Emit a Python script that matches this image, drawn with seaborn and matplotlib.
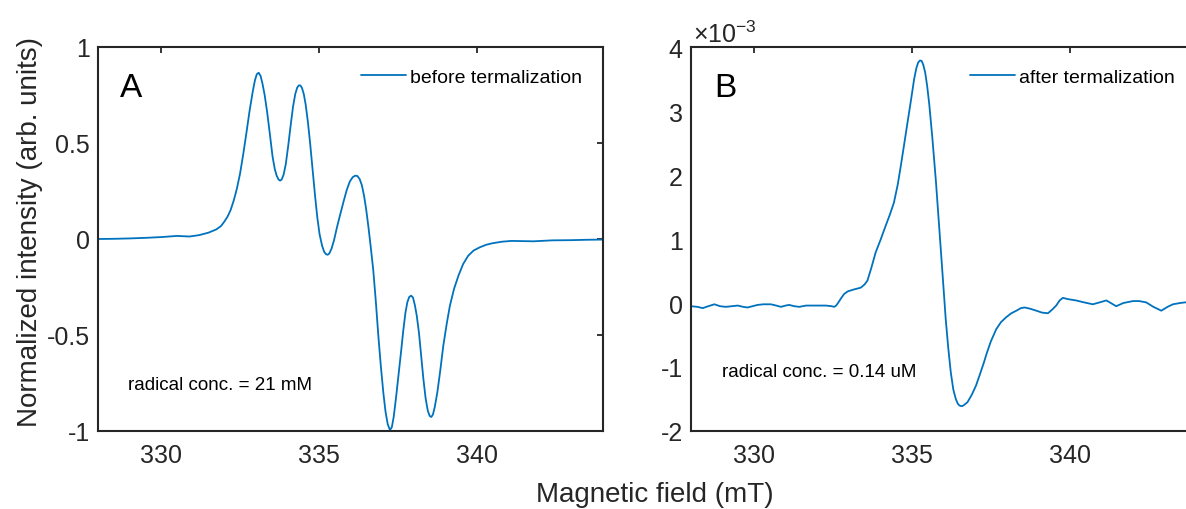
import numpy as np
import pandas as pd
import matplotlib
matplotlib.use('Agg')
import matplotlib.pyplot as plt
import seaborn as sns

# 1. Data
field_a = [328.0, 328.5, 329.0, 329.5, 330.0, 330.5, 330.9, 331.2, 331.5, 331.75,
           331.9, 332.0, 332.1, 332.2, 332.3, 332.4, 332.5, 332.6, 332.7, 332.8,
           332.9, 332.97, 333.03, 333.09, 333.15, 333.21, 333.28, 333.36, 333.45, 333.53,
           333.6, 333.66, 333.72, 333.77, 333.82, 333.88, 333.95, 334.03, 334.11, 334.18,
           334.25, 334.31, 334.36, 334.41, 334.46, 334.52, 334.58, 334.65, 334.72, 334.8,
           334.88, 334.95, 335.02, 335.1, 335.17, 335.23, 335.28, 335.33, 335.4, 335.48,
           335.57, 335.67, 335.78, 335.88, 335.98, 336.07, 336.15, 336.22, 336.29, 336.36,
           336.43, 336.5, 336.57, 336.64, 336.72, 336.8, 336.88, 336.96, 337.04, 337.11,
           337.18, 337.25, 337.31, 337.37, 337.44, 337.52, 337.6, 337.67, 337.74, 337.8,
           337.86, 337.92, 337.98, 338.04, 338.1, 338.17, 338.24, 338.31, 338.38, 338.45,
           338.51, 338.56, 338.61, 338.67, 338.75, 338.84, 338.94, 339.05, 339.15, 339.28,
           339.42, 339.57, 339.73, 339.9, 340.1, 340.3, 340.5, 340.8, 341.1, 341.8,
           342.4, 343.0, 343.5, 344.0]
signal_a = [0.000, 0.001, 0.003, 0.006, 0.010, 0.016, 0.013, 0.020, 0.033, 0.050,
            0.068, 0.090, 0.115, 0.150, 0.200, 0.262, 0.340, 0.440, 0.550, 0.665,
            0.765, 0.825, 0.858, 0.866, 0.850, 0.810, 0.750, 0.660, 0.540, 0.430,
            0.365, 0.330, 0.310, 0.304, 0.310, 0.335, 0.390, 0.490, 0.600, 0.690,
            0.755, 0.788, 0.800, 0.800, 0.788, 0.755, 0.700, 0.610, 0.500, 0.360,
            0.220, 0.110, 0.025, -0.035, -0.068, -0.080, -0.082, -0.075, -0.050, -0.005,
            0.060, 0.125, 0.195, 0.255, 0.300, 0.322, 0.330, 0.328, 0.312, 0.280,
            0.225, 0.150, 0.060, -0.040, -0.160, -0.320, -0.500, -0.660, -0.800, -0.900,
            -0.965, -0.995, -0.980, -0.925, -0.830, -0.710, -0.590, -0.480, -0.385, -0.330,
            -0.302, -0.295, -0.305, -0.345, -0.400, -0.490, -0.610, -0.730, -0.830, -0.895,
            -0.922, -0.927, -0.915, -0.875, -0.800, -0.690, -0.556, -0.440, -0.347, -0.260,
            -0.191, -0.130, -0.087, -0.060, -0.043, -0.030, -0.022, -0.014, -0.010, -0.012,
            -0.007, -0.006, -0.004, -0.003]

field_b = [328.0, 328.2, 328.37, 328.55, 328.74, 328.92, 329.1, 329.3, 329.48, 329.65,
           329.79, 329.95, 330.11, 330.3, 330.53, 330.7, 330.85, 331.0, 331.11, 331.27,
           331.43, 331.65, 331.85, 332.05, 332.27, 332.45, 332.54, 332.6, 332.67, 332.75,
           332.85, 332.96, 333.15, 333.38, 333.5, 333.59, 333.72, 333.85, 334.0, 334.17,
           334.3, 334.43, 334.55, 334.65, 334.76, 334.86, 334.97, 335.07, 335.14, 335.2,
           335.26, 335.31, 335.36, 335.42, 335.48, 335.55, 335.65, 335.76, 335.86, 335.97,
           336.07, 336.15, 336.23, 336.31, 336.39, 336.45, 336.5, 336.55, 336.6, 336.66,
           336.76, 336.9, 337.03, 337.15, 337.28, 337.36, 337.5, 337.67, 337.82, 337.99,
           338.15, 338.31, 338.45, 338.57, 338.75, 338.94, 339.12, 339.31, 339.45, 339.57,
           339.68, 339.78, 339.95, 340.2, 340.45, 340.73, 340.95, 341.16, 341.3, 341.47,
           341.7, 342.0, 342.2, 342.42, 342.65, 342.9, 343.1, 343.27, 343.5, 343.66,
           344.0]
# in units of 1e-3
signal_b_milli = [-0.05, -0.06, -0.08, -0.05, -0.02, -0.05, -0.06, -0.05, -0.04, -0.06,
                  -0.07, -0.05, -0.03, -0.02, -0.02, -0.04, -0.06, -0.04, -0.03, -0.05,
                  -0.06, -0.04, -0.04, -0.04, -0.04, -0.05, -0.06, -0.04, 0.01, 0.07,
                  0.14, 0.18, 0.21, 0.24, 0.29, 0.35, 0.56, 0.79, 0.98, 1.21,
                  1.38, 1.57, 1.85, 2.15, 2.50, 2.82, 3.17, 3.50, 3.67, 3.76,
                  3.79, 3.78, 3.72, 3.60, 3.40, 3.10, 2.56, 1.90, 1.21, 0.45,
                  -0.25, -0.70, -1.08, -1.35, -1.50, -1.57, -1.60, -1.61, -1.61, -1.59,
                  -1.55, -1.43, -1.29, -1.12, -0.93, -0.80, -0.60, -0.41, -0.30, -0.22,
                  -0.16, -0.12, -0.08, -0.07, -0.09, -0.12, -0.15, -0.16, -0.10, -0.04,
                  0.04, 0.08, 0.06, 0.04, 0.01, -0.02, 0.01, 0.04, 0.00, -0.05,
                  0.00, 0.03, 0.03, 0.01, -0.06, -0.12, -0.06, -0.02, 0.00, 0.01,
                  0.01]

yticks_b = [-2, -1, 0, 1, 2, 3, 4]

df_a = pd.DataFrame({'field': field_a, 'signal': signal_a})
df_b = pd.DataFrame({'field': field_b, 'signal': np.array(signal_b_milli) * 1e-3})

# 2. Style (MATLAB-like)
sns.set_theme(style='white')
plt.rcParams['font.family'] = ['Liberation Sans', 'DejaVu Sans']
plt.rcParams['axes.unicode_minus'] = False
plt.rcParams['mathtext.fontset'] = 'custom'
plt.rcParams['mathtext.rm'] = 'Liberation Sans'
plt.rcParams['text.color'] = 'black'

line_col = '#0072BD'
frame_col = '#262626'
W, H = 1186, 510

fig = plt.figure(figsize=(W / 100, H / 100), dpi=100)
ax1 = fig.add_axes([98 / W, 78 / H, 505 / W, 384 / H])
ax2 = fig.add_axes([691 / W, 78 / H, 505 / W, 384 / H])

sns.lineplot(data=df_a, x='field', y='signal', ax=ax1, color=line_col,
             linewidth=1.3, label='before termalization', sort=False)
sns.lineplot(data=df_b, x='field', y='signal', ax=ax2, color=line_col,
             linewidth=1.3, label='after termalization', sort=False)

for ax in (ax1, ax2):
    ax.set_xlim(328, 344)
    ax.set_xticks([330, 335, 340])
    ax.set_xlabel('')
    ax.set_ylabel('')
    for sp in ax.spines.values():
        sp.set_visible(True)
        sp.set_color(frame_col)
        sp.set_linewidth(1.5)
    ax.tick_params(direction='in', top=True, right=True, length=4.5, width=1.3,
                   color=frame_col, labelcolor=frame_col, labelsize=18)
    ax.tick_params(axis='x', pad=9)
    ax.tick_params(axis='y', pad=6)
    ax.legend(loc='upper right', frameon=False, fontsize=14, handlelength=2.3,
              handletextpad=0.2, borderaxespad=0.7)

ax1.set_ylim(-1, 1)
ax1.set_yticks([-1, -0.5, 0, 0.5, 1])
ax1.set_yticklabels(['-1', '-0.5', '0', '0.5', '1'])

ax2.set_ylim(-2e-3, 4e-3)
ax2.set_yticks(np.array(yticks_b) * 1e-3)
ax2.set_yticklabels([str(t) for t in yticks_b])
ax2.text(0.003, 1.012, r'$\times\mathdefault{10^{-3}}$', transform=ax2.transAxes,
         fontsize=18, color=frame_col, ha='left', va='baseline')

ax1.text(0.044, 0.872, 'A', transform=ax1.transAxes, fontsize=24, va='baseline')
ax2.text(0.046, 0.872, 'B', transform=ax2.transAxes, fontsize=24, va='baseline')
ax1.text(0.059, 0.109, 'radical conc. = 21 mM', transform=ax1.transAxes,
         fontsize=13.5, va='baseline')
ax2.text(0.061, 0.143, 'radical conc. = 0.14 uM', transform=ax2.transAxes,
         fontsize=13.5, va='baseline')

fig.text(30 / W, 1 - 232 / H, 'Normalized intensity (arb. units)', rotation=90,
         ha='center', va='center', fontsize=20, color=frame_col)
fig.text(655 / W, 15 / H, 'Magnetic field (mT)', ha='center', va='center',
         fontsize=20, color=frame_col)

fig.savefig('out.png', dpi=100)
